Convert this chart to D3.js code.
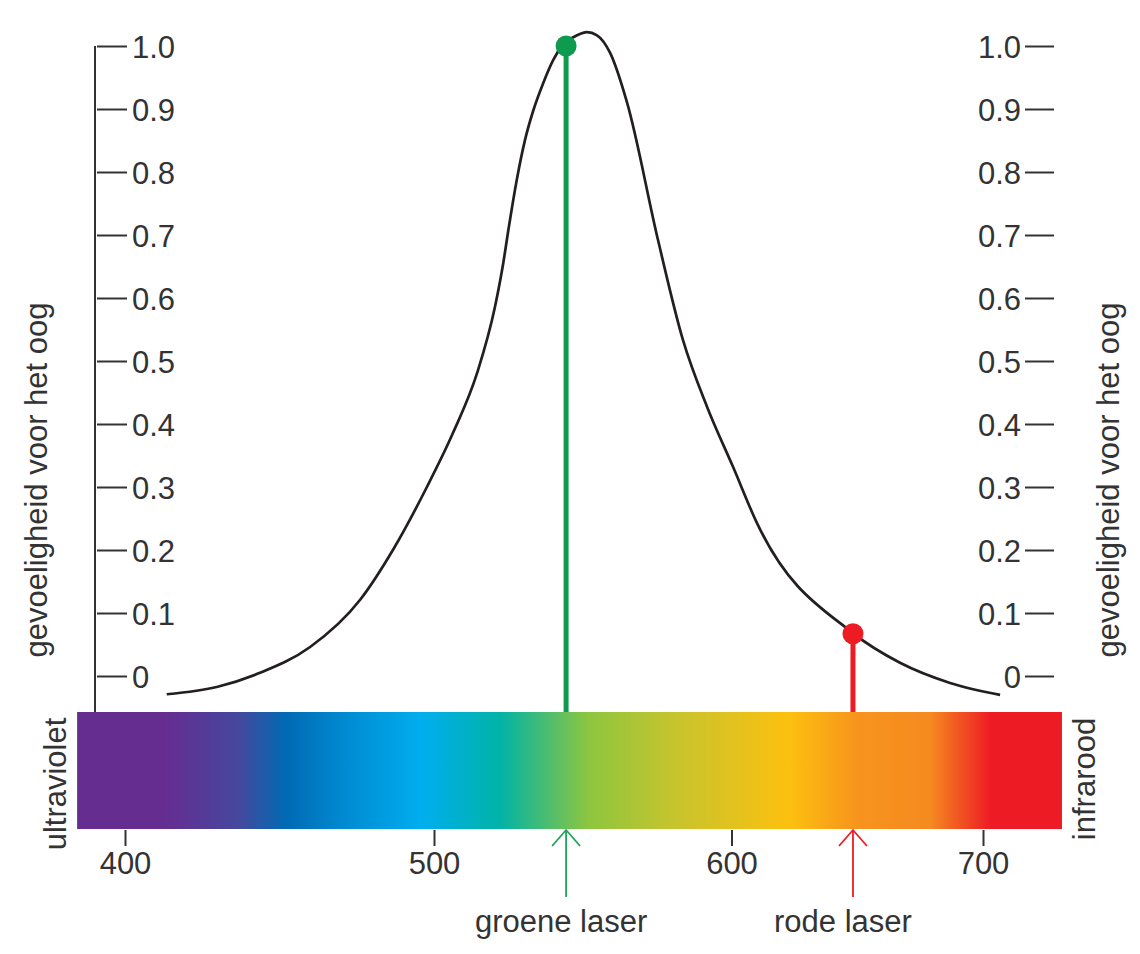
<!DOCTYPE html>
<html>
<head>
<meta charset="utf-8">
<script src="https://cdn.jsdelivr.net/npm/d3@7"></script>
<style>
  html, body { margin: 0; padding: 0; background: #fff; }
  svg { display: block; }
  text { font-family: "Liberation Sans", Arial, sans-serif; fill: #333; }
</style>
</head>
<body>
<svg id="chart" width="1140" height="954"></svg>
<script>
// ---- data ----
const curveWavelength = [413.5, 430.0, 443.7, 459.9, 476.1, 486.7, 497.7, 506.4, 514.5, 520.5, 523.3, 525.0, 527.8, 530.6, 533.4, 536.7, 540.1, 543.4, 548.1, 551.4, 554.8, 559.2, 564.9, 575.3, 583.7, 591.8, 600.6, 610.1, 648.3, 667.0, 686.9, 706.8];
const curveSensitivity = [-0.029, -0.017, 0.005, 0.046, 0.121, 0.200, 0.300, 0.386, 0.481, 0.586, 0.656, 0.708, 0.787, 0.851, 0.898, 0.941, 0.978, 1.002, 1.017, 1.022, 1.017, 0.989, 0.910, 0.692, 0.533, 0.427, 0.332, 0.243, 0.068, 0.021, -0.011, -0.030];

const laserNames = ["groene laser", "rode laser"];
const laserWavelength = [544.4, 648.3];
const laserSensitivity = [1.0, 0.067];
const laserColors = ["#0E9A4F", "#ED1C24"];

const xTicks = [400, 500, 600, 700];
const yTicks = [0, 0.1, 0.2, 0.3, 0.4, 0.5, 0.6, 0.7, 0.8, 0.9, 1.0];
const yTickLabels = ["0", "0.1", "0.2", "0.3", "0.4", "0.5", "0.6", "0.7", "0.8", "0.9", "1.0"];

const spectrumRange = [384.5, 731.4];
const spectrumStopNm = [384.5, 413, 437, 452, 470, 496, 522, 552, 580, 623, 650, 679, 703, 731.4];
const spectrumStopColor = ["#662D91", "#662D91", "#44489E", "#006AB4", "#0089D0", "#00AEEF", "#00B3A7", "#8DC63F", "#C5C42E", "#FDC00F", "#F7941D", "#F58A20", "#ED1C24", "#ED1C24"];

const axisTitle = "gevoeligheid voor het oog";
const leftEnd = "ultraviolet";
const rightEnd = "infrarood";

// ---- scales ----
const x = d3.scaleLinear().domain([400, 500, 600, 700]).range([125, 434, 731.5, 983]);
const y = d3.scaleLinear().domain([0, 1]).range([676, 46]);

const barTop = 712, barBottom = 829;
const svg = d3.select("#chart");
const FS = 31;

// ---- spectrum gradient ----
const x0 = x(spectrumRange[0]), x1 = x(spectrumRange[1]);
const grad = svg.append("defs").append("linearGradient")
  .attr("id", "spec").attr("gradientUnits", "userSpaceOnUse")
  .attr("x1", x0).attr("x2", x1).attr("y1", 0).attr("y2", 0);
spectrumStopNm.forEach((nm, i) => {
  grad.append("stop").attr("offset", (x(nm) - x0) / (x1 - x0)).attr("stop-color", spectrumStopColor[i]);
});
svg.append("rect").attr("x", x0).attr("y", barTop).attr("width", x1 - x0).attr("height", barBottom - barTop).attr("fill", "url(#spec)");

// ---- left axis ----
svg.append("line").attr("x1", 95).attr("x2", 95).attr("y1", y(1)).attr("y2", barTop)
  .attr("stroke", "#333").attr("stroke-width", 2);
const leftAxis = svg.append("g").attr("transform", "translate(97,0)")
  .call(d3.axisRight(y).tickValues(yTicks).tickSize(30).tickPadding(5).tickFormat((d, i) => yTickLabels[i]));
leftAxis.select(".domain").remove();

// ---- right axis ----
const rightAxis = svg.append("g").attr("transform", "translate(1054,0)")
  .call(d3.axisLeft(y).tickValues(yTicks).tickSize(29).tickPadding(4).tickFormat((d, i) => yTickLabels[i]));
rightAxis.select(".domain").remove();

[leftAxis, rightAxis].forEach(g => {
  g.selectAll(".tick line").attr("stroke", "#333").attr("stroke-width", 2);
  g.selectAll(".tick text").attr("font-size", FS).attr("fill", "#333")
    .attr("font-family", "Liberation Sans, Arial, sans-serif").attr("dy", "0.36em");
});

// ---- bottom axis ----
const bottomAxis = svg.append("g").attr("transform", `translate(0,${barBottom + 1})`)
  .call(d3.axisBottom(x).tickValues(xTicks).tickSize(16).tickPadding(6).tickFormat(d3.format("d")));
bottomAxis.select(".domain").remove();
bottomAxis.selectAll(".tick line").attr("stroke", "#333").attr("stroke-width", 2);
bottomAxis.selectAll(".tick text").attr("font-size", FS).attr("fill", "#333")
  .attr("font-family", "Liberation Sans, Arial, sans-serif");

// ---- curve ----
const pts = curveWavelength.map((w, i) => [w, curveSensitivity[i]]);
const line = d3.line().x(d => x(d[0])).y(d => y(d[1])).curve(d3.curveMonotoneX);
svg.append("path").attr("d", line(pts)).attr("fill", "none").attr("stroke", "#231F20").attr("stroke-width", 2.7);

// ---- lasers ----
const labelShift = [-5, -10];
laserNames.forEach((name, i) => {
  const lx = x(laserWavelength[i]);
  const c = laserColors[i];
  svg.append("line").attr("x1", lx).attr("x2", lx).attr("y1", y(laserSensitivity[i])).attr("y2", barTop)
    .attr("stroke", c).attr("stroke-width", 5);
  svg.append("circle").attr("cx", lx).attr("cy", y(laserSensitivity[i])).attr("r", 10.5).attr("fill", c);
  const arrowColor = i === 0 ? "#1FA35B" : "#ED1C24";
  svg.append("line").attr("x1", lx).attr("x2", lx).attr("y1", barBottom + 1).attr("y2", 897)
    .attr("stroke", arrowColor).attr("stroke-width", 1.8);
  svg.append("path").attr("d", d3.line()([[lx - 14, barBottom + 17], [lx, barBottom + 1], [lx + 14, barBottom + 17]]))
    .attr("fill", "none").attr("stroke", arrowColor).attr("stroke-width", 1.8);
  svg.append("text").attr("x", lx + labelShift[i]).attr("y", 932).attr("text-anchor", "middle").attr("font-size", FS).text(name);
});

// ---- rotated labels ----
function vlabel(xPos, yPos, txt) {
  svg.append("text").attr("transform", `translate(${xPos},${yPos}) rotate(-90)`)
    .attr("text-anchor", "middle").attr("font-size", FS).text(txt);
}
vlabel(47, 480, axisTitle);
vlabel(1119, 480, axisTitle);
vlabel(66, 784, leftEnd);
vlabel(1095, 779, rightEnd);
</script>
</body>
</html>
